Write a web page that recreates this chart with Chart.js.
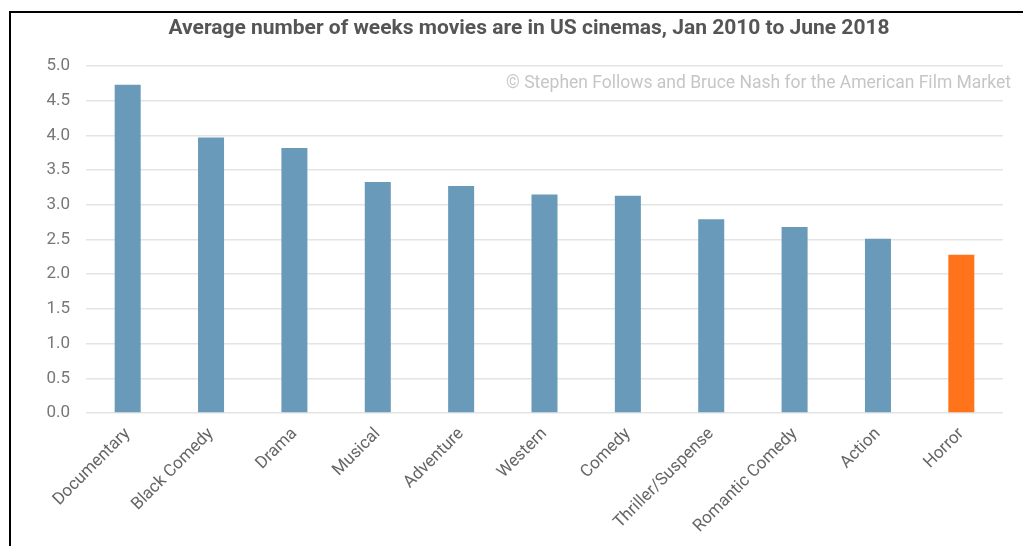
<!DOCTYPE html>
<html>
<head>
<meta charset="utf-8">
<script src="https://cdn.jsdelivr.net/npm/chart.js@4"></script>
<style>
  html, body { margin: 0; padding: 0; background: #fff; }
  #wrap { position: relative; width: 1023px; height: 546px; overflow: hidden; }
  #frame { position: absolute; left: 9px; top: 11px; right: -4px; bottom: -4px;
           border-left: 2px solid #000; border-top: 2px solid #000; pointer-events: none; }
  canvas { position: absolute; left: 0; top: 0; }
</style>
</head>
<body>
<div id="wrap">
  <canvas id="chart-weeks" width="1023" height="546"></canvas>
  <div id="frame"></div>
</div>
<script>
const genres = ['Documentary', 'Black Comedy', 'Drama', 'Musical', 'Adventure', 'Western',
  'Comedy', 'Thriller/Suspense', 'Romantic Comedy', 'Action', 'Horror'];
const avgWeeks = [4.73, 3.97, 3.82, 3.33, 3.27, 3.15, 3.13, 2.79, 2.68, 2.51, 2.28];
const highlight = 'Horror';
const yTicks = [0, 0.5, 1, 1.5, 2, 2.5, 3, 3.5, 4, 4.5, 5];

const titleText = 'Average number of weeks movies are in US cinemas, Jan 2010 to June 2018';
const creditText = '\u00A9 Stephen Follows and Bruce Nash for the American Film Market';

const FONT = 'Roboto, "Noto Sans", sans-serif';

// title and credit line drawn on top of the chart
const textPlugin = {
  id: 'headerText',
  afterDraw(chart) {
    const { ctx, chartArea, scales } = chart;
    ctx.save();
    ctx.fillStyle = '#555';
    ctx.font = 'bold 21px ' + FONT;
    ctx.textAlign = 'center';
    ctx.textBaseline = 'middle';
    ctx.fillText(titleText, 529, 29);

    ctx.fillStyle = '#c6c6c6';
    ctx.font = '17.5px ' + FONT;
    ctx.textAlign = 'right';
    ctx.fillText(creditText, chartArea.right + 8, scales.y.getPixelForValue(4.75));
    ctx.restore();
  }
};

new Chart(document.getElementById('chart-weeks'), {
  type: 'bar',
  data: {
    labels: genres,
    datasets: [{
      label: 'Average weeks',
      data: avgWeeks,
      backgroundColor: genres.map(g => g === highlight ? '#FF741A' : '#699AB9'),
      borderWidth: 0,
      barPercentage: 0.312,
      categoryPercentage: 1
    }]
  },
  options: {
    responsive: false,
    animation: false,
    layout: { padding: { top: 66, right: 20, left: 0, bottom: 0 } },
    plugins: { legend: { display: false }, tooltip: { enabled: false }, title: { display: false } },
    scales: {
      x: {
        grid: { display: false },
        border: { display: false },
        ticks: { color: '#666', font: { family: FONT, size: 17 }, minRotation: 45, maxRotation: 45, padding: 3 },
        afterFit(scale) { scale.height = 133; }
      },
      y: {
        min: 0,
        max: 5,
        afterBuildTicks(scale) { scale.ticks = yTicks.map(v => ({ value: v })); },
        grid: { color: '#e4e4e4', lineWidth: 1.5, drawTicks: false },
        border: { display: false },
        ticks: { color: '#777', font: { family: FONT, size: 17 }, padding: 16,
                 callback: v => Number(v).toFixed(1) },
        afterFit(scale) { scale.width = 86; }
      }
    }
  },
  plugins: [textPlugin]
});
</script>
</body>
</html>
